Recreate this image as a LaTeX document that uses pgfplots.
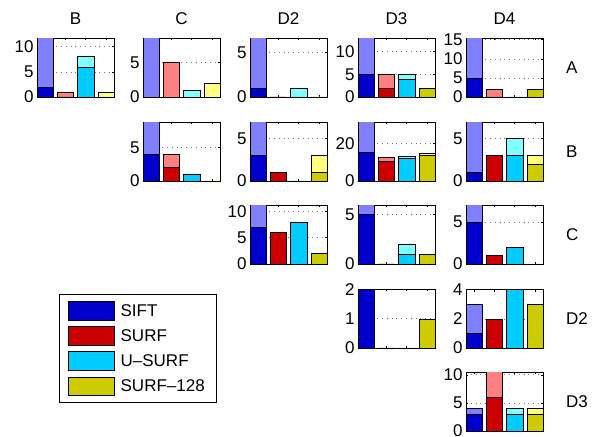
\documentclass[border=0pt]{standalone}
\usepackage{fontspec}
\setmainfont{Liberation Sans}
\usepackage{pgfplots}
\pgfplotsset{compat=1.18}
\newcommand{\fs}{\fontsize{17bp}{20bp}\selectfont}
\definecolor{sd}{RGB}{0,0,204}
\definecolor{sl}{RGB}{128,128,255}
\definecolor{rd}{RGB}{204,0,0}
\definecolor{rl}{RGB}{255,128,128}
\definecolor{cd}{RGB}{0,204,255}
\definecolor{cl}{RGB}{128,255,255}
\definecolor{yd}{RGB}{204,204,0}
\definecolor{yl}{RGB}{255,255,128}
\pgfplotsset{
  bb/.style={ybar, bar width=0.8, bar shift=0pt, draw=black, line width=0.4bp},
  D1/.style={bb, fill=sd}, L1/.style={bb, fill=sl},
  D2/.style={bb, fill=rd}, L2/.style={bb, fill=rl},
  D3/.style={bb, fill=cd}, L3/.style={bb, fill=cl},
  D4/.style={bb, fill=yd}, L4/.style={bb, fill=yl},
  sub/.style={scale only axis, width=77bp, height=58.5bp, anchor=south west,
    xmin=0.6, xmax=4.4, ymin=0, xtick={1,2,3,4}, xticklabels={},
    tick align=inside, major tick length=2bp,
    ymajorgrids, grid style={black!55, line width=0.5bp, dash pattern=on 0.6bp off 4.2bp},
    axis line style={line width=0.5bp}, tick style={black, line width=0.4bp},
    tick label style={font=\fs}, /pgf/number format/assume math mode=true},
}
\begin{document}
\begin{tikzpicture}
\useasboundingbox (0,0) rectangle (612bp,437bp);
% ---------- row A ----------
\begin{axis}[sub, at={(37bp,340bp)}, ymax=11.6, ytick={0,5,10}]
\addplot[L1] coordinates {(1,30)};
\addplot[L2] coordinates {(2,1)};
\addplot[L3] coordinates {(3,8)};
\addplot[L4] coordinates {(4,1)};
\addplot[D1] coordinates {(1,2)};
\addplot[D2] coordinates {(2,0)};
\addplot[D3] coordinates {(3,6)};
\addplot[D4] coordinates {(4,0)};
\end{axis}
\begin{axis}[sub, at={(143bp,340bp)}, ymax=8.5, ytick={0,5}]
\addplot[L1] coordinates {(1,30)};
\addplot[L2] coordinates {(2,5)};
\addplot[L3] coordinates {(3,1)};
\addplot[L4] coordinates {(4,2)};
\end{axis}
\begin{axis}[sub, at={(250bp,340bp)}, ymax=6.6, ytick={0,5}]
\addplot[L1] coordinates {(1,30)};
\addplot[L2] coordinates {(2,0)};
\addplot[L3] coordinates {(3,1)};
\addplot[L4] coordinates {(4,0)};
\addplot[D1] coordinates {(1,1)};
\addplot[D2] coordinates {(2,0)};
\addplot[D3] coordinates {(3,0)};
\addplot[D4] coordinates {(4,0)};
\end{axis}
\begin{axis}[sub, at={(358bp,340bp)}, ymax=12.9, ytick={0,5,10}]
\addplot[L1] coordinates {(1,30)};
\addplot[L2] coordinates {(2,5)};
\addplot[L3] coordinates {(3,5)};
\addplot[L4] coordinates {(4,2)};
\addplot[D1] coordinates {(1,5)};
\addplot[D2] coordinates {(2,2)};
\addplot[D3] coordinates {(3,4)};
\addplot[D4] coordinates {(4,2)};
\end{axis}
\begin{axis}[sub, at={(466bp,340bp)}, ymax=15.3, ytick={0,5,10,15}]
\addplot[L1] coordinates {(1,40)};
\addplot[L2] coordinates {(2,2)};
\addplot[L3] coordinates {(3,0)};
\addplot[L4] coordinates {(4,2)};
\addplot[D1] coordinates {(1,5)};
\addplot[D2] coordinates {(2,0)};
\addplot[D3] coordinates {(3,0)};
\addplot[D4] coordinates {(4,2)};
\end{axis}
% ---------- row B ----------
\begin{axis}[sub, at={(143bp,256bp)}, ymax=8.7, ytick={0,5}]
\addplot[L1] coordinates {(1,30)};
\addplot[L2] coordinates {(2,4)};
\addplot[L3] coordinates {(3,1)};
\addplot[L4] coordinates {(4,0)};
\addplot[D1] coordinates {(1,4)};
\addplot[D2] coordinates {(2,2)};
\addplot[D3] coordinates {(3,1)};
\addplot[D4] coordinates {(4,0)};
\end{axis}
\begin{axis}[sub, at={(250bp,256bp)}, ymax=6.9, ytick={0,5}]
\addplot[L1] coordinates {(1,30)};
\addplot[L2] coordinates {(2,1)};
\addplot[L3] coordinates {(3,0)};
\addplot[L4] coordinates {(4,3)};
\addplot[D1] coordinates {(1,3)};
\addplot[D2] coordinates {(2,1)};
\addplot[D3] coordinates {(3,0)};
\addplot[D4] coordinates {(4,1)};
\end{axis}
\begin{axis}[sub, at={(358bp,256bp)}, ymax=31, ytick={0,20}]
\addplot[L1] coordinates {(1,60)};
\addplot[L2] coordinates {(2,12.5)};
\addplot[L3] coordinates {(3,13)};
\addplot[L4] coordinates {(4,14.5)};
\addplot[D1] coordinates {(1,15)};
\addplot[D2] coordinates {(2,10.5)};
\addplot[D3] coordinates {(3,12)};
\addplot[D4] coordinates {(4,13.5)};
\end{axis}
\begin{axis}[sub, at={(466bp,256bp)}, ymax=6.9, ytick={0,5}]
\addplot[L1] coordinates {(1,30)};
\addplot[L2] coordinates {(2,3)};
\addplot[L3] coordinates {(3,5)};
\addplot[L4] coordinates {(4,3)};
\addplot[D1] coordinates {(1,1)};
\addplot[D2] coordinates {(2,3)};
\addplot[D3] coordinates {(3,3)};
\addplot[D4] coordinates {(4,2)};
\end{axis}
% ---------- row C ----------
\begin{axis}[sub, at={(250bp,173bp)}, ymax=11.1, ytick={0,5,10},
  legend style={at={(-2.4805,-0.5128)}, anchor=north west, draw=black, line width=0.5bp,
    inner xsep=9bp, inner ysep=7bp, row sep=6.2bp, column sep=6bp, font=\fs,
    nodes={inner sep=0pt, text height=11.5bp, text depth=0pt, text width=87bp}},
  legend cell align=left,
  legend image code/.code={\draw[#1] (0bp,-9.25bp) rectangle (46bp,9.25bp);}]
\addlegendimage{fill=sd, draw=black, line width=0.4bp}\addlegendentry{SIFT}
\addlegendimage{fill=rd, draw=black, line width=0.4bp}\addlegendentry{SURF}
\addlegendimage{fill=cd, draw=black, line width=0.4bp}\addlegendentry{U–SURF}
\addlegendimage{fill=yd, draw=black, line width=0.4bp}\addlegendentry{SURF–128}
\addplot[L1] coordinates {(1,30)};
\addplot[D1] coordinates {(1,7)};
\addplot[D2] coordinates {(2,6)};
\addplot[D3] coordinates {(3,8)};
\addplot[D4] coordinates {(4,2)};
\end{axis}
\begin{axis}[sub, at={(358bp,173bp)}, ymax=5.9, ytick={0,5}]
\addplot[L1] coordinates {(1,30)};
\addplot[L2] coordinates {(2,0)};
\addplot[L3] coordinates {(3,2)};
\addplot[L4] coordinates {(4,1)};
\addplot[D1] coordinates {(1,5)};
\addplot[D2] coordinates {(2,0)};
\addplot[D3] coordinates {(3,1)};
\addplot[D4] coordinates {(4,1)};
\end{axis}
\begin{axis}[sub, at={(466bp,173bp)}, ymax=7, ytick={0,5}]
\addplot[L1] coordinates {(1,30)};
\addplot[D1] coordinates {(1,5)};
\addplot[D2] coordinates {(2,1)};
\addplot[D3] coordinates {(3,2)};
\addplot[D4] coordinates {(4,0)};
\end{axis}
% ---------- row D2 ----------
\begin{axis}[sub, at={(358bp,89bp)}, ymax=2, ytick={0,1,2}]
\addplot[D1] coordinates {(1,2)};
\addplot[D2] coordinates {(2,0)};
\addplot[D3] coordinates {(3,0)};
\addplot[D4] coordinates {(4,1)};
\end{axis}
\begin{axis}[sub, at={(466bp,89bp)}, ymax=4, ytick={0,2,4}]
\addplot[L1] coordinates {(1,3)};
\addplot[D1] coordinates {(1,1)};
\addplot[D2] coordinates {(2,2)};
\addplot[D3] coordinates {(3,4)};
\addplot[D4] coordinates {(4,3)};
\end{axis}
% ---------- row D3 ----------
\begin{axis}[sub, at={(466bp,6bp)}, ymax=10.4, ytick={0,5,10}]
\addplot[L1] coordinates {(1,4)};
\addplot[L2] coordinates {(2,20)};
\addplot[L3] coordinates {(3,4)};
\addplot[L4] coordinates {(4,4)};
\addplot[D1] coordinates {(1,3)};
\addplot[D2] coordinates {(2,6)};
\addplot[D3] coordinates {(3,3)};
\addplot[D4] coordinates {(4,3)};
\end{axis}
% ---------- column titles and row labels ----------
\node[font=\fs] at (75.5bp,418bp) {B};
\node[font=\fs] at (181.5bp,418bp) {C};
\node[font=\fs] at (288.5bp,418bp) {D2};
\node[font=\fs] at (396.5bp,418bp) {D3};
\node[font=\fs] at (504.5bp,418bp) {D4};
\node[font=\fs, anchor=west, inner sep=0pt] at (566bp,369bp) {A};
\node[font=\fs, anchor=west, inner sep=0pt] at (566bp,285.5bp) {B};
\node[font=\fs, anchor=west, inner sep=0pt] at (566bp,202.5bp) {C};
\node[font=\fs, anchor=west, inner sep=0pt] at (566bp,118.5bp) {D2};
\node[font=\fs, anchor=west, inner sep=0pt] at (566bp,35bp) {D3};
\end{tikzpicture}
\end{document}
